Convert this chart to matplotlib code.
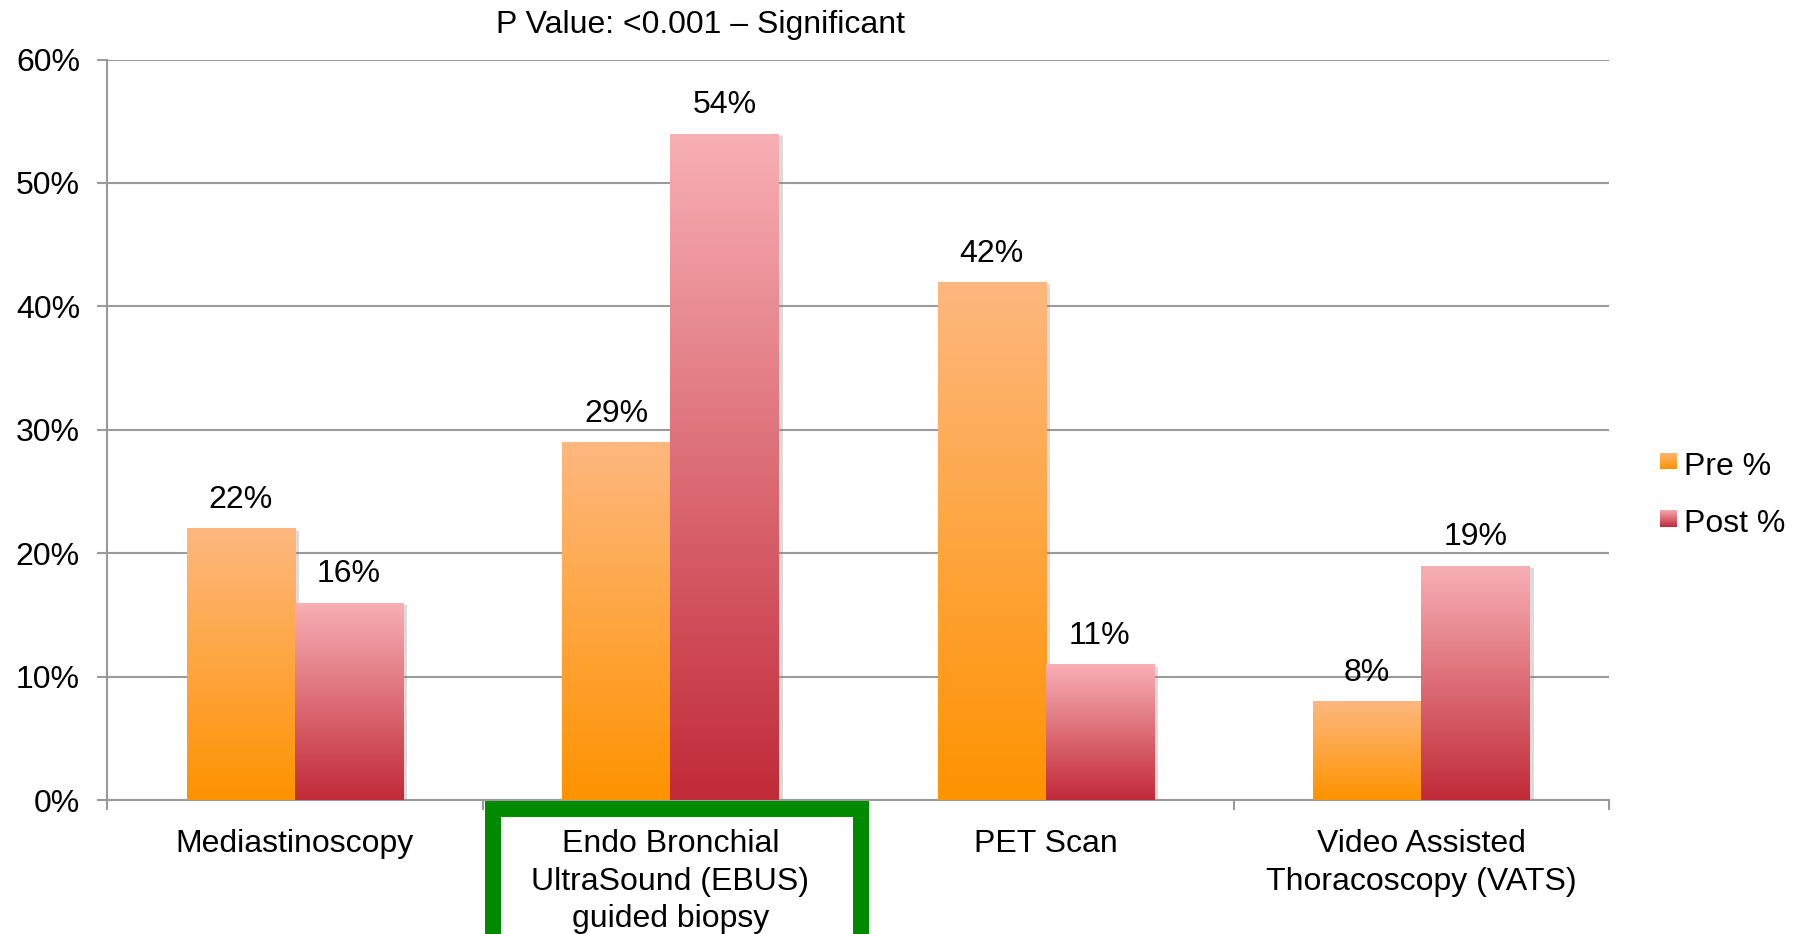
import numpy as np
import matplotlib
matplotlib.use("Agg")
import matplotlib.pyplot as plt
from matplotlib.colors import LinearSegmentedColormap
from matplotlib.patches import Rectangle
import matplotlib.patheffects as pe

plt.rcParams['font.family'] = ['Liberation Sans', 'DejaVu Sans']

categories = ["Mediastinoscopy",
              "Endo Bronchial\nUltraSound (EBUS)\nguided biopsy",
              "PET Scan",
              "Video Assisted\nThoracoscopy (VATS)"]
pre = [22, 29, 42, 8]
post = [16, 54, 11, 19]
series_names = ["Pre %", "Post %"]
yticks = [0, 10, 20, 30, 40, 50, 60]

# bottom -> top colours of each gradient
pre_cmap = LinearSegmentedColormap.from_list("pre", ["#FF9300", "#FDB87F"])
post_cmap = LinearSegmentedColormap.from_list("post", ["#C12A38", "#F8B0B5"])
grad = np.linspace(0, 1, 256).reshape(-1, 1)

grid_col = "#9A9A9A"
fs = 23

fig = plt.figure(figsize=(18.02, 9.34), dpi=100)
ax = fig.add_axes([107 / 1802, 134 / 934, 1502 / 1802, 740.5 / 934])

x = np.arange(len(categories))
w = 0.288
shadow = [pe.SimplePatchShadow(offset=(3, -2), shadow_rgbFace="#888888", alpha=0.3), pe.Normal()]

for vals, offs, cmap in [(pre, -w / 2, pre_cmap), (post, w / 2, post_cmap)]:
    bars = ax.bar(x + offs, vals, width=w, color="white", linewidth=0, zorder=2)
    for b, v in zip(bars, vals):
        b.set_path_effects(shadow)
        x0 = b.get_x()
        im = ax.imshow(grad, cmap=cmap, origin="lower", aspect="auto",
                       extent=(x0, x0 + w, 0, v), zorder=3, interpolation="bilinear")
        im.set_clip_path(b)
        ax.annotate(f"{v}%", (x0 + w / 2, v), xytext=(0, 14.5), textcoords="offset points",
                    ha="center", va="baseline", fontsize=fs, zorder=4)

ax.set_xlim(-0.5, len(categories) - 0.5)
ax.set_ylim(0, 60)

ax.set_yticks(yticks)
ax.set_yticklabels([f"{t}%" for t in yticks], fontsize=fs)
ax.yaxis.grid(True, color=grid_col, linewidth=1.5)
ax.set_axisbelow(True)

ax.set_xticks(np.arange(-0.5, len(categories)), labels=[""] * (len(categories) + 1))
ax.set_xticks(x, labels=categories, minor=True)
ax.tick_params(axis="x", which="minor", length=0, pad=21, labelsize=fs)
ax.tick_params(axis="x", which="major", length=7, width=1.5, color=grid_col, direction="out")
ax.tick_params(axis="y", length=7, width=1.5, color=grid_col, direction="out", pad=12.5)
for lbl in ax.get_xticklabels(minor=True):
    lbl.set_linespacing(1.33)

for s in ["top", "right"]:
    ax.spines[s].set_visible(False)
for s in ["left", "bottom"]:
    ax.spines[s].set_color(grid_col)
    ax.spines[s].set_linewidth(1.5)

fig.text(700 / 1802, 1 - 25.5 / 934, "P Value: <0.001 \u2013 Significant",
         ha="center", va="center", fontsize=fs)

# highlight box around the EBUS category
fig.patches.append(Rectangle((493 / 1802, -0.2), 368 / 1802, (0.2 + (934 - 809) / 934),
                             transform=fig.transFigure, fill=False,
                             edgecolor="#008A00", linewidth=11.5, joinstyle="miter"))

# legend with gradient swatches
for i, (name, cmap) in enumerate(zip(series_names, [pre_cmap, post_cmap])):
    yc = 461 + i * 57
    sw = fig.add_axes([1660 / 1802, 1 - (yc + 8.5) / 934, 17 / 1802, 17 / 934])
    sw.imshow(grad, cmap=cmap, origin="lower", aspect="auto")
    sw.set_axis_off()
    fig.text(1684 / 1802, 1 - (yc + 6) / 934, name, ha="left", va="center", fontsize=fs)

fig.savefig("out.png", dpi=100)
